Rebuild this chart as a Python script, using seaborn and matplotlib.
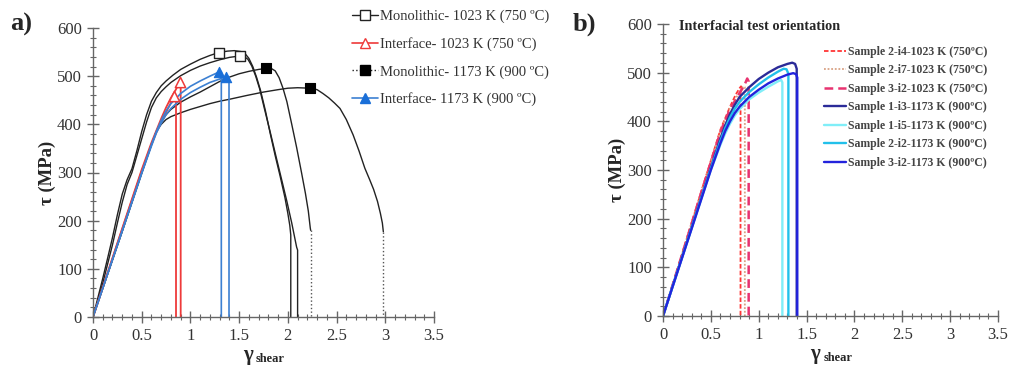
import matplotlib
matplotlib.use("Agg")
import matplotlib.pyplot as plt
from matplotlib.lines import Line2D
from matplotlib.ticker import MultipleLocator, FuncFormatter
import seaborn as sns

sns.set_style("white")
plt.rcParams['font.family'] = ['Liberation Serif', 'DejaVu Serif']

# ---------------- Panel a data ----------------
mono1023_1_x = [0, 0.05, 0.1, 0.15, 0.2, 0.25, 0.3, 0.35, 0.4, 0.45, 0.5, 0.55, 0.6, 0.65, 0.7, 0.75, 0.82, 0.9, 1.0, 1.1, 1.2, 1.29, 1.38, 1.45,
                1.52, 1.56, 1.60, 1.64, 1.68, 1.72, 1.77, 1.82, 1.87, 1.92, 1.97, 2.0, 2.02, 2.03, 2.03]
mono1023_1_y = [0, 40, 80, 122, 165, 212, 255, 285, 308, 345, 385, 420, 448, 466, 480, 490, 502, 514, 525, 535, 543, 549, 552, 553,
                551, 547, 537, 520, 497, 470, 428, 380, 335, 293, 248, 215, 190, 170, 0]
mono1023_2_x = [0, 0.05, 0.1, 0.15, 0.2, 0.25, 0.3, 0.35, 0.4, 0.45, 0.5, 0.55, 0.6, 0.65, 0.7, 0.75, 0.8, 0.9, 1.0, 1.1, 1.2, 1.3, 1.4, 1.509,
                1.55, 1.59, 1.63, 1.67, 1.71, 1.76, 1.82, 1.88, 1.94, 1.99, 2.04, 2.07, 2.09, 2.10, 2.10]
mono1023_2_y = [0, 33, 70, 110, 150, 195, 238, 275, 300, 335, 370, 405, 435, 455, 468, 478, 487, 501, 512, 521, 528, 534, 539, 542,
                541, 535, 521, 500, 474, 432, 383, 332, 282, 240, 195, 165, 145, 139, 0]
mono1023_mark_x = [1.29, 1.509]
mono1023_mark_y = [549, 542]

mono1173_1_x = [0, 0.3, 0.5, 0.6, 0.65, 0.7, 0.75, 0.8, 0.9, 1.0, 1.1, 1.2, 1.3, 1.4, 1.5, 1.6, 1.7, 1.78,
                1.83, 1.87, 1.91, 1.95, 1.99, 2.04, 2.09, 2.14, 2.18, 2.21, 2.23, 2.234, 2.234]
mono1173_1_y = [0, 178, 300, 358, 385, 405, 420, 431, 446, 457, 467, 478, 489, 498, 505, 510, 514, 516,
                516, 511, 497, 475, 447, 400, 352, 300, 257, 220, 185, 180, 0]
mono1173_2_x = [0, 0.3, 0.5, 0.6, 0.65, 0.7, 0.75, 0.8, 0.9, 1.0, 1.1, 1.2, 1.3, 1.4, 1.58, 1.75, 1.9, 2.0, 2.1, 2.23,
                2.30, 2.36, 2.42, 2.48, 2.535, 2.6, 2.67, 2.73, 2.79, 2.84, 2.88, 2.92, 2.95, 2.97, 2.98, 2.98]
mono1173_2_y = [0, 178, 298, 358, 385, 400, 410, 416, 424, 431, 437, 443, 448, 452, 460, 467, 472, 475, 476, 475,
                472, 464, 455, 444, 433, 410, 378, 345, 309, 285, 265, 240, 215, 195, 177, 0]
mono1173_mark_x = [1.78, 2.23]
mono1173_mark_y = [516, 475]

int1023_1_x = [0, 0.3, 0.5, 0.6, 0.65, 0.7, 0.75, 0.8, 0.835, 0.852, 0.852]
int1023_1_y = [0, 182, 303, 358, 383, 405, 425, 445, 459, 459, 0]
int1023_2_x = [0, 0.3, 0.5, 0.6, 0.7, 0.75, 0.8, 0.85, 0.89, 0.90, 0.90]
int1023_2_y = [0, 184, 306, 362, 412, 435, 455, 472, 488, 488, 0]
int1023_mark_x = [0.835, 0.89]
int1023_mark_y = [459, 488]

int1173_1_x = [0, 0.3, 0.5, 0.6, 0.65, 0.7, 0.75, 0.8, 0.9, 1.0, 1.1, 1.2, 1.297, 1.317, 1.317]
int1173_1_y = [0, 180, 300, 358, 385, 408, 428, 443, 464, 479, 490, 500, 509, 509, 0]
int1173_2_x = [0, 0.3, 0.5, 0.6, 0.65, 0.7, 0.75, 0.8, 0.9, 1.0, 1.1, 1.2, 1.3, 1.365, 1.396, 1.396]
int1173_2_y = [0, 178, 298, 355, 382, 402, 420, 433, 452, 466, 477, 487, 494, 499, 499, 0]
int1173_mark_x = [1.297, 1.365]
int1173_mark_y = [509, 499]

legend_a = ["Monolithic- 1023 K (750 ºC)", "Interface- 1023 K (750 ºC)",
            "Monolithic- 1173 K (900 ºC)", "Interface- 1173 K (900 ºC)"]

# ---------------- Panel b data ----------------
b_s2i4_x = [0, 0.4, 0.6, 0.7, 0.76, 0.8, 0.815, 0.81, 0.81]
b_s2i4_y = [0, 256, 383, 430, 455, 468, 472, 460, 0]
b_s2i7_x = [0, 0.4, 0.6, 0.7, 0.8, 0.84, 0.855, 0.855]
b_s2i7_y = [0, 255, 380, 428, 460, 472, 470, 0]
b_s3i2a_x = [0, 0.4, 0.6, 0.7, 0.8, 0.85, 0.88, 0.895, 0.895]
b_s3i2a_y = [0, 254, 378, 425, 458, 474, 488, 482, 0]
b_s1i3_x = [0, 0.5, 0.6, 0.65, 0.7, 0.75, 0.8, 0.9, 1.0, 1.1, 1.2, 1.3, 1.35, 1.38, 1.397, 1.397]
b_s1i3_y = [0, 305, 365, 392, 415, 434, 450, 470, 487, 500, 511, 518, 520.5, 518, 508, 0]
b_s1i5_x = [0, 0.5, 0.6, 0.65, 0.7, 0.75, 0.8, 0.9, 1.0, 1.1, 1.2, 1.235, 1.247, 1.247]
b_s1i5_y = [0, 300, 352, 375, 395, 412, 425, 445, 459, 471, 482, 485, 480, 0]
b_s2i2_x = [0, 0.5, 0.6, 0.65, 0.7, 0.75, 0.8, 0.9, 1.0, 1.1, 1.2, 1.26, 1.29, 1.31, 1.31]
b_s2i2_y = [0, 303, 360, 386, 408, 426, 440, 460, 476, 490, 502, 508, 507, 498, 0]
b_s3i2b_x = [0, 0.5, 0.6, 0.65, 0.7, 0.75, 0.8, 0.9, 1.0, 1.1, 1.2, 1.3, 1.36, 1.39, 1.403, 1.403]
b_s3i2b_y = [0, 300, 355, 380, 400, 417, 430, 450, 465, 478, 488, 496, 499, 497, 490, 0]

legend_b = ["Sample 2-i4-1023 K (750ºC)", "Sample 2-i7-1023 K (750ºC)",
            "Sample 3-i2-1023 K (750ºC)", "Sample 1-i3-1173 K (900ºC)",
            "Sample 1-i5-1173 K (900ºC)", "Sample 2-i2-1173 K (900ºC)",
            "Sample 3-i2-1173 K (900ºC)"]

# ---------------- Figure ----------------
W, H = 1009, 372
fig = plt.figure(figsize=(W / 100, H / 100), dpi=100)
axa = fig.add_axes([93 / W, 1 - 317 / H, 341 / W, 289 / H])
axb = fig.add_axes([663 / W, 1 - 316 / H, 335 / W, 292 / H])

BLACK = "#222222"
RED = "#ee3a3a"
BLUE = "#3c80d2"
MBLUE = "#1a6fd8"


def line(ax, xs, ys, color, lw, ls="-"):
    sns.lineplot(x=xs, y=ys, sort=False, estimator=None, color=color,
                 linewidth=lw, linestyle=ls, ax=ax, legend=False)


# Panel a lines
for xs, ys in [(mono1023_1_x, mono1023_1_y), (mono1023_2_x, mono1023_2_y)]:
    line(axa, xs, ys, BLACK, 1.0)
for xs, ys in [(mono1173_1_x, mono1173_1_y), (mono1173_2_x, mono1173_2_y)]:
    line(axa, xs[:-1], ys[:-1], BLACK, 1.0)
    line(axa, xs[-2:], ys[-2:], "#555555", 1.0, ":")
for xs, ys in [(int1023_1_x, int1023_1_y), (int1023_2_x, int1023_2_y)]:
    line(axa, xs, ys, RED, 1.3)
for xs, ys in [(int1173_1_x, int1173_1_y), (int1173_2_x, int1173_2_y)]:
    line(axa, xs, ys, BLUE, 1.2)

sns.scatterplot(x=mono1023_mark_x, y=mono1023_mark_y, marker="s", s=42,
                facecolor="white", edgecolor=BLACK, linewidth=1.0, ax=axa, zorder=5)
sns.scatterplot(x=int1023_mark_x, y=int1023_mark_y, marker="^", s=55,
                facecolor="white", edgecolor=RED, linewidth=1.1, ax=axa, zorder=5)
sns.scatterplot(x=mono1173_mark_x, y=mono1173_mark_y, marker="s", s=45,
                color="black", edgecolor="black", linewidth=0.8, ax=axa, zorder=5)
sns.scatterplot(x=int1173_mark_x, y=int1173_mark_y, marker="^", s=55,
                color=MBLUE, edgecolor=MBLUE, linewidth=0.8, ax=axa, zorder=5)

# Panel b lines
b_styles = [
    (b_s2i4_x, b_s2i4_y, "#ff3535", 1.3, (0, (2.5, 1.2))),
    (b_s2i7_x, b_s2i7_y, "#d9a285", 1.3, (0, (1, 1))),
    (b_s3i2a_x, b_s3i2a_y, "#e83370", 1.8, (0, (3.5, 2))),
    (b_s1i3_x, b_s1i3_y, "#2b2b98", 1.7, "-"),
    (b_s1i5_x, b_s1i5_y, "#80eef8", 1.7, "-"),
    (b_s2i2_x, b_s2i2_y, "#22c0ea", 1.7, "-"),
    (b_s3i2b_x, b_s3i2b_y, "#2323dc", 1.7, "-"),
]
for xs, ys, c, lw, ls in b_styles:
    line(axb, xs, ys, c, lw, ls)

# Axes styling
for ax in (axa, axb):
    ax.set_xlim(0, 3.5)
    ax.set_ylim(0, 600)
    ax.xaxis.set_major_locator(MultipleLocator(0.5))
    ax.xaxis.set_minor_locator(MultipleLocator(0.1))
    ax.yaxis.set_major_locator(MultipleLocator(100))
    ax.yaxis.set_minor_locator(MultipleLocator(20))
    ax.xaxis.set_major_formatter(FuncFormatter(lambda v, p: f"{v:g}"))
    for s in ("top", "right"):
        ax.spines[s].set_visible(False)
    for s in ("left", "bottom"):
        ax.spines[s].set_color("#666666")
        ax.spines[s].set_linewidth(1.0)
    ax.tick_params(which="major", direction="inout", length=8, width=1.0,
                   color="#666666", labelsize=12, labelcolor="#333333", pad=4,
                   bottom=True, left=True)
    ax.tick_params(which="minor", direction="inout", length=4, width=0.8,
                   color="#666666", bottom=True, left=True)
    ax.set_xlabel("")
    ax.set_ylabel("τ (MPa)", fontsize=13.5, fontweight="bold", labelpad=1)
    ax.text(0.455, -0.13, "γ", transform=ax.transAxes, fontsize=15,
            fontweight="bold", ha="center", va="center")
    ax.text(0.478, -0.145, "shear", transform=ax.transAxes, fontsize=9,
            fontweight="bold", ha="left", va="center")

fig.text(10 / W, 1 - 31 / H, "a)", fontsize=19, fontweight="bold", va="baseline")
fig.text(573 / W, 1 - 31 / H, "b)", fontsize=19, fontweight="bold", va="baseline")
fig.text(679 / W, 1 - 27 / H, "Interfacial test orientation",
         fontsize=10.3, fontweight="bold", va="center", ha="left")

# Legend a
handles_a = [
    Line2D([], [], color=BLACK, lw=1.0, marker="s", markersize=6.5,
           markerfacecolor="white", markeredgecolor=BLACK),
    Line2D([], [], color=RED, lw=1.2, marker="^", markersize=7.5,
           markerfacecolor="white", markeredgecolor=RED),
    Line2D([], [], color=BLACK, lw=1.0, ls=":", marker="s", markersize=6.5,
           markerfacecolor="black", markeredgecolor="black"),
    Line2D([], [], color=BLUE, lw=1.2, marker="^", markersize=7.5,
           markerfacecolor=MBLUE, markeredgecolor=MBLUE),
]
leg_a = fig.legend(handles_a, legend_a, loc="upper left",
                   bbox_to_anchor=(352 / W, 1 - 10 / H), frameon=False,
                   fontsize=10.5, labelspacing=0.95, handlelength=1.8,
                   handletextpad=0.15, borderpad=0, borderaxespad=0)
for t in leg_a.get_texts():
    t.set_color("#333333")

handles_b = [Line2D([], [], color=c, lw=lw, ls=ls) for _, _, c, lw, ls in b_styles]
leg_b = fig.legend(handles_b, legend_b, loc="upper left",
                   bbox_to_anchor=(824 / W, 1 - 46 / H), frameon=False,
                   prop={"size": 8.5, "weight": "bold"}, labelspacing=0.55,
                   handlelength=1.9, handletextpad=0.15, borderpad=0, borderaxespad=0)
for t in leg_b.get_texts():
    t.set_color("#444444")

fig.savefig("out.png", dpi=100)
